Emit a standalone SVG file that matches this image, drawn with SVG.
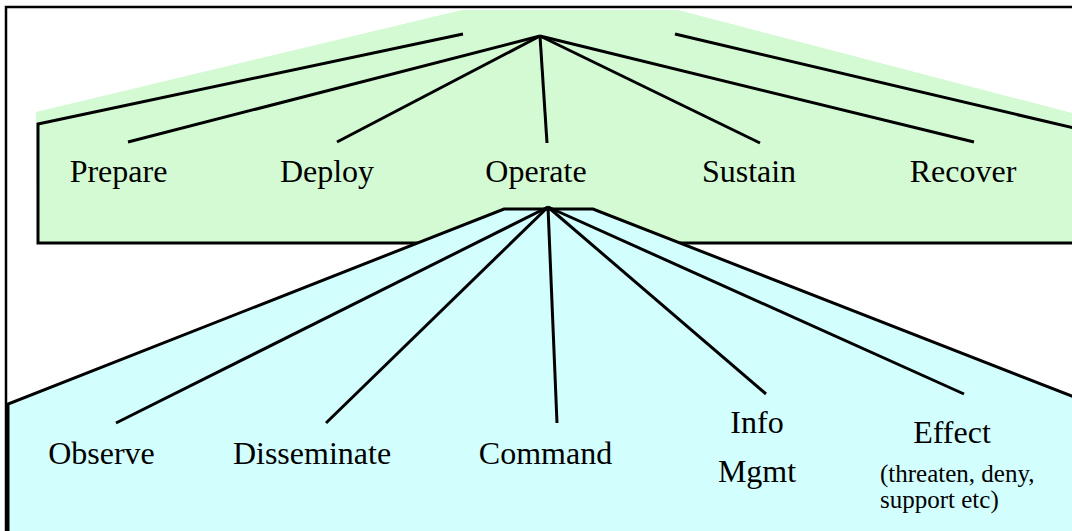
<svg xmlns="http://www.w3.org/2000/svg" width="1072" height="531" viewBox="0 0 1072 531">
  <style>
    .frame { fill: #ffffff; stroke: #000000; stroke-width: 2.5; }
    .band-green { fill: #d3fad3; stroke: none; }
    .band-cyan { fill: #d3fefe; stroke: none; }
    .edge { fill: none; stroke: #000000; stroke-width: 3; stroke-linejoin: miter; }
    .link { fill: none; stroke: #000000; stroke-width: 3; stroke-linecap: butt; }
    .label { font-family: "Liberation Serif", "Times New Roman", serif; font-size: 32px; fill: #000000; text-anchor: middle; }
    .note { font-family: "Liberation Serif", "Times New Roman", serif; font-size: 25px; fill: #000000; }
  </style>

  <!-- outer frame, running off the right and bottom edges -->
  <rect class="frame" x="6" y="7" width="1090" height="540"/>

  <!-- top level: campaign phases -->
  <g id="phases">
    <polygon class="band-green" points="36,112 462,10 678,10 1072,113 1072,243 37,243"/>
    <polyline class="edge" points="463,34 38,124 38,243 1074,243"/>
    <line class="edge" x1="675" y1="34" x2="1074" y2="128"/>
  </g>

  <!-- second level: breakdown of Operate -->
  <g id="operate-detail">
    <polygon class="band-cyan" points="8,404 504,209 593,209 1074,397 1074,533 8,533"/>
    <polyline class="edge" points="8,533 8,404 504,209 593,209 1074,397"/>
  </g>

  <g id="connectors">
    <line class="link" x1="540" y1="36" x2="128" y2="142"/>
    <line class="link" x1="540" y1="36" x2="337" y2="142"/>
    <line class="link" x1="540" y1="36" x2="547" y2="143"/>
    <line class="link" x1="540" y1="36" x2="760" y2="143"/>
    <line class="link" x1="540" y1="36" x2="974" y2="142"/>

    <line class="link" x1="548" y1="207" x2="116" y2="423"/>
    <line class="link" x1="548" y1="207" x2="326" y2="423"/>
    <line class="link" x1="548" y1="207" x2="557" y2="423"/>
    <line class="link" x1="548" y1="207" x2="766" y2="394"/>
    <line class="link" x1="548" y1="207" x2="964" y2="394"/>
  </g>

  <g id="prepare"><text class="label" x="118.5" y="182">Prepare</text></g>
  <g id="deploy"><text class="label" x="327" y="182">Deploy</text></g>
  <g id="operate"><text class="label" x="536" y="182">Operate</text></g>
  <g id="sustain"><text class="label" x="749" y="182">Sustain</text></g>
  <g id="recover"><text class="label" x="963" y="182">Recover</text></g>

  <g id="observe"><text class="label" x="101.5" y="464">Observe</text></g>
  <g id="disseminate"><text class="label" x="312" y="464">Disseminate</text></g>
  <g id="command"><text class="label" x="545.5" y="464">Command</text></g>
  <g id="info-mgmt">
    <text class="label" x="757" y="433">Info</text>
    <text class="label" x="757" y="482">Mgmt</text>
  </g>
  <g id="effect">
    <text class="label" x="952" y="443">Effect</text>
    <text class="note" x="880" y="482">(threaten, deny,</text>
    <text class="note" x="880" y="508">support etc)</text>
  </g>
</svg>
